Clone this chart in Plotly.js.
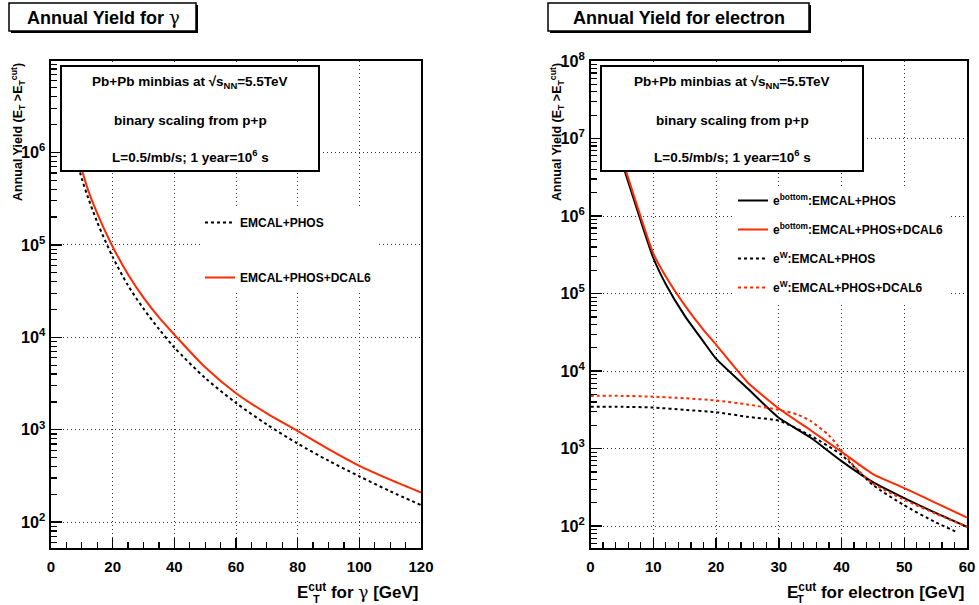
<!DOCTYPE html>
<html><head><meta charset="utf-8">
<script src="https://cdn.plot.ly/plotly-3.0.1.min.js"></script>
<style>html,body{margin:0;padding:0;background:#fff}#chart{width:979px;height:605px}</style>
</head><body><div id="chart"></div>
<script>
// ---- data: photon annual yield ----
const gammaEcut = [5, 10, 12, 15, 20, 25, 30, 35, 40, 50, 60, 70, 80, 90, 100, 110, 120];
const gammaEmcalPhos = [2.24e6, 5.19e5, 3.27e5, 1.76e5, 7.41e4, 3.63e4, 2.04e4, 1.23e4, 7.76e3, 3.63e3, 1.95e3, 1.14e3, 708, 462, 313, 216, 153];
const gammaEmcalPhosDcal6 = [2.8e6, 6.53e5, 3.94e5, 2.19e5, 9.55e4, 4.79e4, 2.69e4, 1.64e4, 1.07e4, 4.73e3, 2.48e3, 1.5e3, 966, 617, 407, 288, 209];
// ---- data: electron annual yield ----
const eBottomEcut = [5, 10, 12, 15, 18, 20, 25, 30, 35, 40, 45, 50, 55, 60];
const eBottomEmcalPhos = [5.0e6, 2.9e5, 1.32e5, 5.2e4, 2.4e4, 1.45e4, 6.0e3, 2.5e3, 1.4e3, 690, 370, 230, 148, 98];
const eBottomEmcalPhosDcal6 = [5.6e6, 3.3e5, 1.66e5, 7.1e4, 3.4e4, 2.2e4, 7.2e3, 3.3e3, 1.74e3, 910, 470, 310, 200, 129];
const eWEcutA = [0, 5, 10, 15, 20, 25, 30, 35, 40, 45, 50, 55, 58.5];
const eWEmcalPhos = [3470, 3460, 3390, 3160, 2950, 2570, 2290, 1480, 830, 340, 186, 112, 83];
const eWEcutB = [0, 5, 10, 15, 20, 25, 30, 33, 35, 38, 40, 42, 45, 50, 55, 60];
const eWEmcalPhosDcal6 = [4790, 4790, 4680, 4470, 4170, 3720, 3160, 2750, 2290, 1480, 955, 590, 355, 219, 145, 98];

const gammaTicks = [0, 20, 40, 60, 80, 100, 120];
const electronTicks = [0, 10, 20, 30, 40, 50, 60];

const W = 979, H = 605;
const px = v => v / W;
const py = v => 1 - v / H;
const FONT = 'Liberation Sans, Arial, Helvetica, sans-serif';
const RED = '#ff2a00';
const GAMMA = '<span style="font-family:\'DejaVu Serif\',serif;font-weight:normal">γ</span>';

const traces = [
  {x: gammaEcut, y: gammaEmcalPhos, xaxis: 'x', yaxis: 'y', mode: 'lines', name: 'EMCAL+PHOS',
   line: {color: '#000', width: 2, dash: '3px,3px', shape: 'spline', smoothing: 0.8}, legend: 'legend', legendgroup: 'a'},
  {x: gammaEcut, y: gammaEmcalPhosDcal6, xaxis: 'x', yaxis: 'y', mode: 'lines', name: 'EMCAL+PHOS+DCAL6',
   line: {color: RED, width: 2, shape: 'spline', smoothing: 0.8}, legend: 'legend', legendgroup: 'b'},
  {x: eBottomEcut, y: eBottomEmcalPhos, xaxis: 'x2', yaxis: 'y2', mode: 'lines', name: 'e<sup>bottom</sup>:EMCAL+PHOS',
   line: {color: '#000', width: 2, shape: 'spline', smoothing: 0.5}, legend: 'legend2', legendgroup: 'c'},
  {x: eBottomEcut, y: eBottomEmcalPhosDcal6, xaxis: 'x2', yaxis: 'y2', mode: 'lines', name: 'e<sup>bottom</sup>:EMCAL+PHOS+DCAL6',
   line: {color: RED, width: 2, shape: 'spline', smoothing: 0.5}, legend: 'legend2', legendgroup: 'd'},
  {x: eWEcutA, y: eWEmcalPhos, xaxis: 'x2', yaxis: 'y2', mode: 'lines', name: 'e<sup>W</sup>:EMCAL+PHOS',
   line: {color: '#000', width: 2, dash: '3px,3px', shape: 'spline', smoothing: 0.6}, legend: 'legend2', legendgroup: 'e'},
  {x: eWEcutB, y: eWEmcalPhosDcal6, xaxis: 'x2', yaxis: 'y2', mode: 'lines', name: 'e<sup>W</sup>:EMCAL+PHOS+DCAL6',
   line: {color: RED, width: 2, dash: '3px,3px', shape: 'spline', smoothing: 0.6}, legend: 'legend2', legendgroup: 'f'}
];

function xAxis(dom, range, ticks, minorStep, anchor) {
  return {
    domain: dom, range: range, anchor: anchor, tickmode: 'array', tickvals: ticks, ticktext: ticks.map(String),
    ticks: 'inside', ticklen: 10, tickwidth: 1.5, tickcolor: '#000', ticklabelstandoff: 4,
    minor: {ticks: 'inside', ticklen: 6, tickwidth: 1.2, tickcolor: '#000', dtick: minorStep, tick0: 0, showgrid: false},
    showline: true, linewidth: 2, linecolor: '#000', mirror: true,
    showgrid: true, gridcolor: '#333', griddash: '1px,3px', gridwidth: 1, zeroline: false,
    tickfont: {family: FONT, size: 15, color: '#000', weight: 'bold'}
  };
}
function yAxis(dom, range, anchor) {
  return {
    type: 'log', domain: dom, range: range, anchor: anchor, dtick: 1, exponentformat: 'power',
    ticks: 'inside', ticklen: 11, tickwidth: 1.5, tickcolor: '#000', ticklabelstandoff: 1,
    minor: {ticks: 'inside', ticklen: 6, tickwidth: 1.2, tickcolor: '#000', dtick: 'D1', showgrid: false},
    showline: true, linewidth: 2, linecolor: '#000', mirror: true,
    showgrid: true, gridcolor: '#333', griddash: '1px,3px', gridwidth: 1, zeroline: false,
    tickfont: {family: FONT, size: 13, color: '#000', weight: 'bold'}
  };
}

const yDom = [py(548), py(61)];
const shapes = [];
function box(x0, y0, x1, y1, shadow, lw) {
  if (shadow) shapes.push({type: 'rect', xref: 'paper', yref: 'paper', x0: px(x0 + shadow), x1: px(x1 + shadow), y0: py(y1 + shadow), y1: py(y0 + shadow),
    fillcolor: '#000', line: {width: 0}, layer: 'above'});
  shapes.push({type: 'rect', xref: 'paper', yref: 'paper', x0: px(x0), x1: px(x1), y0: py(y1), y1: py(y0),
    fillcolor: '#fff', line: {color: '#000', width: lw}, layer: 'above'});
}
box(9, 3, 196, 31, 2, 1.5);
box(548, 3, 809, 31, 2, 1.5);
box(61, 66, 319, 171, 0, 2);
box(601, 66, 863, 171, 0, 2);

const annotations = [];
function txt(text, x, y, size, opts) {
  annotations.push(Object.assign({text: text, xref: 'paper', yref: 'paper', x: px(x), y: py(y), showarrow: false,
    xanchor: 'center', yanchor: 'middle', font: {family: FONT, size: size, color: '#000', weight: 'bold'}}, opts || {}));
}
txt('Annual Yield for ' + GAMMA, 103, 18, 18);
txt('Annual Yield for electron', 679, 18, 18);
const info = ['Pb+Pb minbias at √s<sub>NN</sub>=5.5TeV',
              'binary scaling from p+p', 'L=0.5/mb/s; 1 year=10<sup>6</sup> s'];
[83, 120, 156].forEach((yy, i) => { txt(info[i], 190, yy, 13.5); txt(info[i], 732, yy, 13.5); });
const ytitle = 'Annual Yield (E<sub>T</sub> >E<sub>T</sub><sup>cut</sup>)';
txt(ytitle, 18, 61, 12.5, {textangle: -90, yanchor: 'top'});
txt(ytitle, 557, 61, 12.5, {textangle: -90, yanchor: 'top'});
txt('E<sup>cut</sup> for ' + GAMMA + ' [GeV]', 421, 604, 17, {xanchor: 'right', yanchor: 'bottom'});
txt('T', 311, 599, 11, {xanchor: 'left'});
txt('E<sup>cut</sup> for electron [GeV]', 967, 604, 17, {xanchor: 'right', yanchor: 'bottom'});
txt('T', 795, 599, 11, {xanchor: 'left'});

const legFont = {family: FONT, size: 12, color: '#000', weight: 'bold'};
const layout = {
  width: W, height: H, margin: {l: 0, r: 0, t: 0, b: 0},
  paper_bgcolor: '#fff', plot_bgcolor: '#fff',
  xaxis: xAxis([px(51), px(421)], [0, 120], gammaTicks, 5, 'y'),
  yaxis: yAxis(yDom, [1.72, 6.99], 'x'),
  xaxis2: xAxis([px(590.5), px(967)], [0, 60], electronTicks, 2, 'y2'),
  yaxis2: yAxis(yDom, [1.718, 8.0005], 'x2'),
  legend: {x: px(200), y: py(208), xanchor: 'left', yanchor: 'top', bgcolor: '#fff', borderwidth: 0,
    font: legFont, traceorder: 'grouped', tracegroupgap: 36},
  legend2: {x: px(733), y: py(186), xanchor: 'left', yanchor: 'top', bgcolor: '#fff', borderwidth: 0,
    font: legFont, traceorder: 'grouped', tracegroupgap: 10},
  shapes: shapes, annotations: annotations
};
Plotly.newPlot('chart', traces, layout, {displayModeBar: false, staticPlot: true});
</script></body></html>
